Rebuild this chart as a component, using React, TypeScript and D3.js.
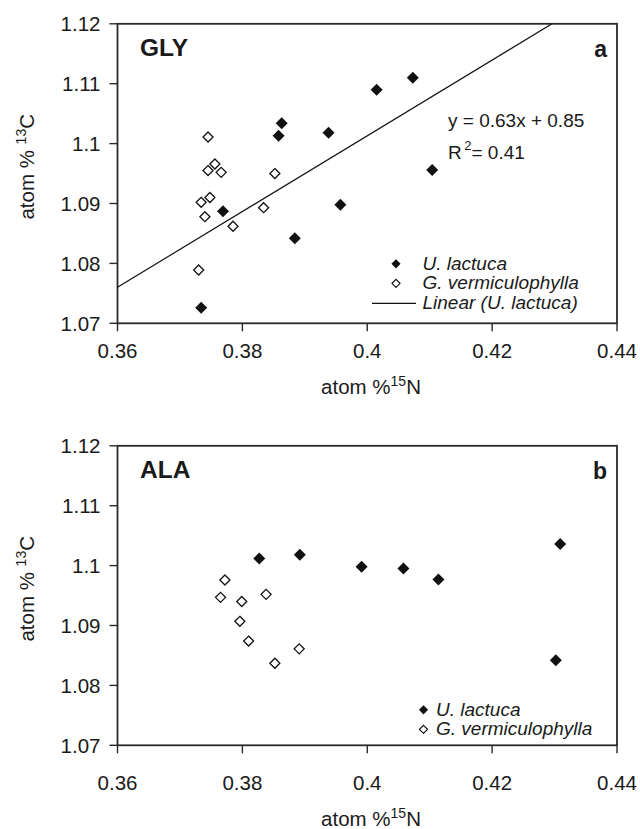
import React from "react";
import * as d3 from "d3";

// ---- data ----
const xTicks = [0.36, 0.38, 0.4, 0.42, 0.44];
const xTickLabels = ["0.36", "0.38", "0.4", "0.42", "0.44"];
const yTicks = [1.07, 1.08, 1.09, 1.1, 1.11, 1.12];
const yTickLabels = ["1.07", "1.08", "1.09", "1.1", "1.11", "1.12"];

// GLY panel
const glyUlvaN = [0.3863, 0.3858, 0.3938, 0.4015, 0.4073, 0.4104, 0.3769, 0.3884, 0.3957, 0.3734];
const glyUlvaC = [1.1034, 1.1013, 1.1018, 1.109, 1.111, 1.0956, 1.0887, 1.0842, 1.0898, 1.0726];
const glyGracN = [0.3745, 0.3756, 0.3745, 0.3766, 0.3852, 0.3748, 0.3734, 0.374, 0.3834, 0.3785, 0.373];
const glyGracC = [1.1011, 1.0966, 1.0955, 1.0952, 1.095, 1.091, 1.0902, 1.0878, 1.0893, 1.0862, 1.0789];
// trend line as drawn (unrounded coefficients)
const glySlope = 0.632;
const glyIntercept = 0.8485;
const glyEquation = "y = 0.63x + 0.85";
const glyR2 = "= 0.41";

// ALA panel
const alaUlvaN = [0.3827, 0.3892, 0.3991, 0.4058, 0.4114, 0.4309, 0.4302];
const alaUlvaC = [1.1012, 1.1018, 1.0998, 1.0995, 1.0977, 1.1036, 1.0842];
const alaGracN = [0.3772, 0.3765, 0.3799, 0.3838, 0.3796, 0.381, 0.3891, 0.3852];
const alaGracC = [1.0976, 1.0947, 1.094, 1.0952, 1.0907, 1.0874, 1.0861, 1.0837];

const seriesNames = ["U. lactuca", "G. vermiculophylla", "Linear (U. lactuca)"];

const FONT = "'Liberation Sans', Arial, Helvetica, sans-serif";

const diamond = (r: number) => `M0,${-r}L${r},0L0,${r}L${-r},0Z`;

type PanelProps = {
  top: number;
  title: string;
  letter: string;
  ulvaN: number[];
  ulvaC: number[];
  gracN: number[];
  gracC: number[];
  trend: boolean;
  tickLabelBase: number;
  xTitleBase: number;
};

function Panel(p: PanelProps) {
  const left = 117.5;
  const right = 617;
  const top = p.top;
  const bottom = top + 299.5;
  const x = d3.scaleLinear().domain([0.36, 0.44]).range([left, right]);
  const y = d3.scaleLinear().domain([1.07, 1.12]).range([bottom, top]);
  const axisColor = "#2a2a2a";

  let trendPath = "";
  if (p.trend) {
    const xEnd = (1.12 - glyIntercept) / glySlope;
    const line = d3
      .line<number>()
      .x((d) => x(d))
      .y((d) => y(glySlope * d + glyIntercept));
    trendPath = line([0.36, xEnd]) || "";
  }

  const legX = p.trend ? 396 : 423.5;
  const legTextX = p.trend ? 422.5 : 436;
  const legBase = p.trend ? top + 246 : top + 270;

  return (
    <g fontFamily={FONT} fill="#1a1a1a">
      {/* frame */}
      <rect x={left} y={top} width={right - left} height={bottom - top} fill="none" stroke={axisColor} strokeWidth={1.8} />
      {/* y ticks */}
      {yTicks.map((t, i) => (
        <g key={"y" + i}>
          <line x1={left - 8} x2={left} y1={y(t)} y2={y(t)} stroke={axisColor} strokeWidth={1.4} />
          <text x={100.5} y={y(t)} dy="0.36em" textAnchor="end" fontSize={20.5}>
            {yTickLabels[i]}
          </text>
        </g>
      ))}
      {/* x ticks */}
      {xTicks.map((t, i) => (
        <g key={"x" + i}>
          <line x1={x(t)} x2={x(t)} y1={bottom} y2={bottom + 8} stroke={axisColor} strokeWidth={1.4} />
          <text x={x(t)} y={p.tickLabelBase} textAnchor="middle" fontSize={20.5}>
            {xTickLabels[i]}
          </text>
        </g>
      ))}
      {/* y title */}
      <text transform={`translate(33.5,${top + 143}) rotate(-90)`} textAnchor="middle" fontSize={20.5}>
        atom %{" "}
        <tspan fontSize={14} dy={-8}>13</tspan>
        <tspan dy={8}>C</tspan>
      </text>
      {/* x title */}
      <text x={371} y={p.xTitleBase} textAnchor="middle" fontSize={20.5}>
        atom %<tspan fontSize={14} dy={-8}>15</tspan>
        <tspan dy={8}>N</tspan>
      </text>
      {/* panel labels */}
      <text x={140} y={top + 32.5} fontSize={24.5} fontWeight="bold">
        {p.title}
      </text>
      <text x={607} y={top + 33} textAnchor="end" fontSize={23} fontWeight="bold">
        {p.letter}
      </text>
      {/* trend */}
      {p.trend && <path d={trendPath} fill="none" stroke="#111" strokeWidth={1.2} />}
      {/* points */}
      {p.gracN.map((n, i) => (
        <path key={"g" + i} d={diamond(5)} transform={`translate(${x(n)},${y(p.gracC[i])})`} fill="#fff" stroke="#111" strokeWidth={1.3} />
      ))}
      {p.ulvaN.map((n, i) => (
        <path key={"u" + i} d={diamond(6)} transform={`translate(${x(n)},${y(p.ulvaC[i])})`} fill="#111" />
      ))}
      {/* equation */}
      {p.trend && (
        <g fontSize={19}>
          <text x={448} y={top + 103}>{glyEquation}</text>
          <text x={448} y={top + 135}>
            R<tspan fontSize={13} dx={2.5} dy={-9}>2</tspan>
            <tspan dy={9}>{glyR2}</tspan>
          </text>
        </g>
      )}
      {/* legend */}
      <g fontSize={19} fontStyle="italic">
        <path d={diamond(4.6)} transform={`translate(${legX},${legBase - 6})`} fill="#111" />
        <text x={legTextX} y={legBase}>{seriesNames[0]}</text>
        <path d={diamond(4)} transform={`translate(${legX},${legBase + 13.5})`} fill="#fff" stroke="#111" strokeWidth={1.2} />
        <text x={legTextX} y={legBase + 19.5}>{seriesNames[1]}</text>
        {p.trend && (
          <>
            <line x1={372} x2={416} y1={legBase + 33.5} y2={legBase + 33.5} stroke="#111" strokeWidth={1.2} />
            <text x={legTextX} y={legBase + 39}>{seriesNames[2]}</text>
          </>
        )}
      </g>
    </g>
  );
}

export default function App() {
  return (
    <svg width={640} height={829} style={{ position: "absolute", left: 0, top: 0, background: "#fff" }}>
      <rect x={0} y={0} width={640} height={829} fill="#fff" />
      <Panel
        top={23.8}
        title="GLY"
        letter="a"
        ulvaN={glyUlvaN}
        ulvaC={glyUlvaC}
        gracN={glyGracN}
        gracC={glyGracC}
        trend={true}
        tickLabelBase={358}
        xTitleBase={394}
      />
      <Panel
        top={445.8}
        title="ALA"
        letter="b"
        ulvaN={alaUlvaN}
        ulvaC={alaUlvaC}
        gracN={alaGracN}
        gracC={alaGracC}
        trend={false}
        tickLabelBase={790}
        xTitleBase={826}
      />
    </svg>
  );
}
